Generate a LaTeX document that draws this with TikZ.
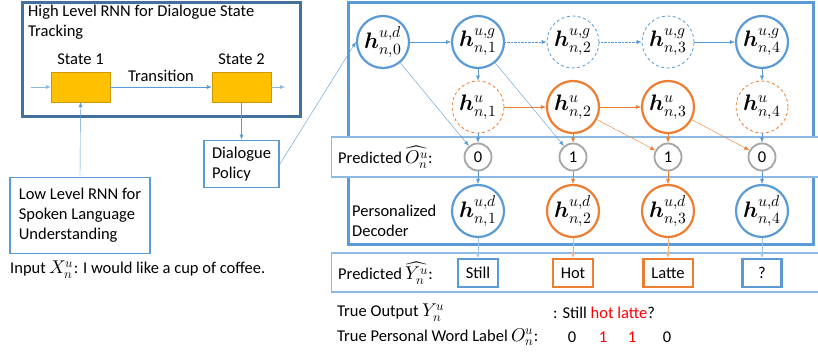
\documentclass[tikz,border=0pt]{standalone}
\usepackage{fontspec}
\usepackage{unicode-math}
\setmainfont{Carlito}
\setmathfont{Latin Modern Math}[Scale=1.12]
\usetikzlibrary{arrows.meta}
\definecolor{myblue}{HTML}{5B9BD5}
\definecolor{darkblue}{HTML}{41719C}
\definecolor{myorange}{HTML}{ED7D31}
\definecolor{mygray}{HTML}{A5A5A5}
\definecolor{stategold}{HTML}{FFC000}
\tikzset{%
  >={Latex[width=4pt,length=5pt]},
  % Specifications for style of nodes:
          base/.style = {circle, minimum size=52pt, inner sep=0pt, fill=white,
                         font=\fontsize{20}{24}\selectfont},
      bluecirc/.style = {base, draw=myblue, line width=2.2pt},
      bluedash/.style = {base, draw=myblue, line width=0.8pt, dash pattern=on 3pt off 2.5pt},
    orangecirc/.style = {base, draw=myorange, line width=2.2pt},
    orangedash/.style = {base, draw=myorange, line width=0.8pt, dash pattern=on 3pt off 2.5pt},
        bitcirc/.style = {circle, draw=mygray, line width=1.8pt, minimum size=27pt,
                         inner sep=0pt, fill=white},
       wordbox/.style = {rectangle, line width=2.2pt, minimum height=28pt,
                         minimum width=39pt, inner xsep=8pt, fill=white},
      statebox/.style = {rectangle, draw=stategold!80!black, fill=stategold,
                         minimum width=59pt, minimum height=30pt},
       textbox/.style = {rectangle, draw=myblue, line width=1.8pt, align=left,
                         inner xsep=2pt, fill=white},
         strip/.style = {rectangle, draw=myblue!70, fill=white, line width=1.2pt},
}

\begin{document}
\begin{tikzpicture}[x=1pt, y=1pt, node distance=95pt,
    every node/.style={font=\fontsize{16.5}{20}\selectfont}]
  \useasboundingbox (0,0) rectangle (818,-358);

  % Left part: high level and low level RNN
  \node (high)		[draw=darkblue, line width=3pt, minimum width=278pt, minimum height=114pt] at (161,-60) {};
  \node (title)		[anchor=north west, align=left, inner sep=0pt] at (28,-5) {High Level RNN for Dialogue State\\Tracking};
  \node (st1)		[statebox] at (80.5,-87) {};
  \node (st2)		[statebox, right of=st1, xshift=66pt] {};
  \node (lab1)		[above=4pt] at (st1.north) {State 1};
  \node (lab2)		[above=4pt] at (st2.north) {State 2};
  \coordinate (inL)	at (31,-87);
  \coordinate (outR)	at (285,-87);
  \node (low)		[textbox, minimum width=140pt, minimum height=76pt] at (80,-215.5) {Low Level RNN for\\Spoken Language\\Understanding};
  \node (policy)	[textbox, minimum width=75pt, minimum height=47pt] at (241.5,-164) {Dialogue\\Policy};
  \node (input)		[anchor=west, inner sep=0pt] at (10,-270) {Input $X_n^u$: I would like a cup of coffee.};

  \draw[->, myblue!70]		(inL) -- (st1);
  \draw[->, myblue]			(st1) -- (st2) node[midway, above, yshift=2pt, text=black] {Transition};
  \draw[->, myblue!70]		(st2) -- (outR);
  \draw[->, myblue]			(low.north) -- (st1.south);
  \draw[->, myblue]			(st2.south) -- (policy.north);

  % Right part: personalized decoder
  \node (dec)		[draw=myblue, line width=3pt, minimum width=465pt, minimum height=241pt] at (580.5,-123.5) {};
  \node (ostrip)	[strip, anchor=west, minimum width=492pt, minimum height=40pt] at (331,-157) {};
  \node (ystrip)	[strip, anchor=west, minimum width=492pt, minimum height=39pt] at (331,-272.5) {};
  \node (olab)		[anchor=west, inner sep=0pt] at (338,-157) {Predicted $\widehat{O_n^u}$:};
  \node (declab)	[anchor=west, align=left, inner sep=0pt] at (352,-221) {Personalized\\Decoder};
  \node (ylab)		[anchor=west, inner sep=0pt] at (338,-273) {Predicted $\widehat{Y_n^u}$:};

  % Specification of nodes (position, etc.)
  \node (g1)		[bluecirc] at (478,-42) {$\symbfit{h}_{n,1}^{u,g}$};
  \node (h0)		[bluecirc, left of=g1] {$\symbfit{h}_{n,0}^{u,d}$};
  \node (g2)		[bluedash, right of=g1] {$\symbfit{h}_{n,2}^{u,g}$};
  \node (g3)		[bluedash, right of=g2] {$\symbfit{h}_{n,3}^{u,g}$};
  \node (g4)		[bluecirc, right of=g3, xshift=-1pt] {$\symbfit{h}_{n,4}^{u,g}$};

  \node (o1)		[orangedash, below of=g1, yshift=30pt] {$\symbfit{h}_{n,1}^{u}$};
  \node (o2)		[orangecirc, right of=o1] {$\symbfit{h}_{n,2}^{u}$};
  \node (o3)		[orangecirc, right of=o2] {$\symbfit{h}_{n,3}^{u}$};
  \node (o4)		[orangedash, right of=o3, xshift=-1pt] {$\symbfit{h}_{n,4}^{u}$};

  \node (b1)		[bitcirc, below of=o1, yshift=45pt] {0};
  \node (b2)		[bitcirc, right of=b1] {1};
  \node (b3)		[bitcirc, right of=b2] {1};
  \node (b4)		[bitcirc, right of=b3, xshift=-1pt] {0};

  \node (d1)		[bluecirc, below of=b1, yshift=41pt] {$\symbfit{h}_{n,1}^{u,d}$};
  \node (d2)		[orangecirc, right of=d1] {$\symbfit{h}_{n,2}^{u,d}$};
  \node (d3)		[orangecirc, right of=d2] {$\symbfit{h}_{n,3}^{u,d}$};
  \node (d4)		[bluecirc, right of=d3, xshift=-1pt] {$\symbfit{h}_{n,4}^{u,d}$};

  \node (w1)		[wordbox, draw=myblue, below of=d1, yshift=33pt] {Still};
  \node (w2)		[wordbox, draw=myorange, right of=w1] {Hot};
  \node (w3)		[wordbox, draw=myorange, right of=w2] {Latte};
  \node (w4)		[wordbox, draw=myblue, right of=w3, xshift=-1pt] {?};

  % Connectors
  \draw[->, myblue]					(policy.east) -- (h0.west);
  \draw[->, myblue]					(h0) -- (g1);
  \draw[->, myblue, densely dotted]	(g1) -- (g2);
  \draw[->, myblue, densely dotted]	(g2) -- (g3);
  \draw[->, myblue]					(g3) -- (g4);
  \draw[->, myblue]					(g1) -- (o1);
  \draw[->, myblue]					(g4) -- (o4);
  \draw[->, myorange]				(o1) -- (o2);
  \draw[->, myorange]				(o2) -- (o3);
  \draw[->, myblue]					(h0) -- (b1);
  \draw[->, myblue]					(g1) -- (b2);
  \draw[->, myorange]				(o2) -- (b3);
  \draw[->, myorange]				(o3) -- (b4);
  \draw[->, myblue]					(o1) -- (b1);
  \draw[->, myorange]				(o2) -- (b2);
  \draw[->, myorange]				(o3) -- (b3);
  \draw[->, myblue]					(o4) -- (b4);
  \draw[->, myblue]					(b1) -- (d1);
  \draw[->, myorange]				(b2) -- (d2);
  \draw[->, myorange]				(b3) -- (d3);
  \draw[->, myblue]					(b4) -- (d4);
  \draw[->, myblue!60]				(d1) -- (w1);
  \draw[->, myorange!60]			(d2) -- (w2);
  \draw[->, myorange!60]			(d3) -- (w3);
  \draw[->, myblue!60]				(d4) -- (w4);

  % True labels
  \node (ytrue)		[anchor=west, inner sep=0pt] at (337,-313) {True Output $Y_n^u$};
  \node (yval)		[anchor=west, inner sep=0pt] at (553,-313) {: Still \textcolor{red}{hot latte}?};
  \node (otrue)		[anchor=west, inner sep=0pt] at (337,-337) {True Personal Word Label $O_n^u$:};
  \node (v1)		at (572,-337) {0};
  \node (v2)		[text=red] at (603,-337) {1};
  \node (v3)		[text=red] at (632,-337) {1};
  \node (v4)		at (667,-337) {0};
\end{tikzpicture}
\end{document}
